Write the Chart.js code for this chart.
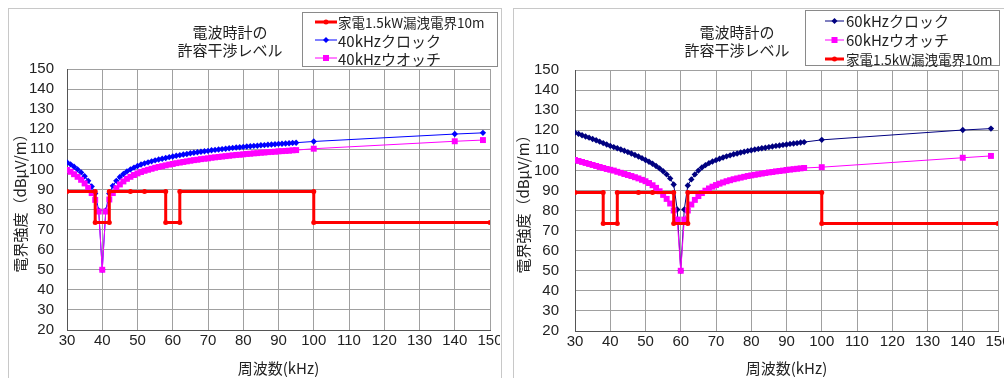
<!DOCTYPE html>
<html lang="ja">
<head>
<meta charset="utf-8">
<script src="https://cdn.jsdelivr.net/npm/chart.js@4.4.1/dist/chart.umd.min.js"></script>
<style>
    body { margin: 0; width: 1004px; height: 378px; overflow: hidden; background: #fff; position: relative;
           font-family: "Noto Sans CJK JP", sans-serif; color: #222; }
    .frame { position: absolute; top: 8px; height: 400px; border: 1px solid #c8c8c8; }
    canvas { position: absolute; }
    .title { position: absolute; font-size: 15px; line-height: 18px; text-align: center; white-space: nowrap;
             transform: translateX(-50%); }
    .legend { position: absolute; background: #fff; border: 1px solid #8a8a8a; font-size: 15px; }
    .legend div { white-space: nowrap; display: flex; align-items: center; }
    .legend .small { font-size: 13.5px; }
</style>
</head>
<body>

<div class="frame" style="left:8px; width:492px;"></div>
<div class="frame" style="left:513px; width:500px;"></div>

<canvas id="chart40" width="491" height="369" style="left:9px; top:9px;"></canvas>
<canvas id="chart60" width="490" height="369" style="left:514px; top:9px;"></canvas>

<div class="title" style="left:230px; top:23px;">電波時計の<br>許容干渉レベル</div>
<div class="title" style="left:737px; top:23px;">電波時計の<br>許容干渉レベル</div>

<div class="legend" style="left:302px; top:12px; width:196px; height:55px; padding-left:12px; box-sizing:border-box;">
    <div style="height:18px;"><svg width="23" height="10"><line x1="0" y1="5" x2="22" y2="5" stroke="#ff0000" stroke-width="3"/><circle cx="11" cy="5" r="2.5" fill="#ff0000"/></svg><span class="small">家電1.5kW漏洩電界10m</span></div>
    <div style="height:18px;"><svg width="23" height="10"><line x1="0" y1="5" x2="22" y2="5" stroke="#0000ff" stroke-width="1"/><path d="M11 2 L14 5 L11 8 L8 5 Z" fill="#0000ff"/></svg><span>40kHzクロック</span></div>
    <div style="height:18px;"><svg width="23" height="10"><line x1="0" y1="5" x2="22" y2="5" stroke="#ff00ff" stroke-width="1"/><rect x="8" y="2" width="6" height="6" fill="#ff00ff"/></svg><span>40kHzウオッチ</span></div>
</div>

<div class="legend" style="left:805px; top:10px; width:195px; height:56px; padding-left:19px; box-sizing:border-box;">
    <div style="height:19px;"><svg width="21" height="10"><line x1="0" y1="5" x2="19" y2="5" stroke="#000080" stroke-width="1"/><path d="M9.5 2 L12.5 5 L9.5 8 L6.5 5 Z" fill="#000080"/></svg><span>60kHzクロック</span></div>
    <div style="height:19px;"><svg width="21" height="10"><line x1="0" y1="5" x2="19" y2="5" stroke="#ff00ff" stroke-width="1"/><rect x="6.5" y="2" width="6" height="6" fill="#ff00ff"/></svg><span>60kHzウオッチ</span></div>
    <div style="height:19px;"><svg width="21" height="10"><line x1="0" y1="5" x2="19" y2="5" stroke="#ff0000" stroke-width="3"/><circle cx="9.5" cy="5" r="2.5" fill="#ff0000"/></svg><span class="small">家電1.5kW漏洩電界10m</span></div>
</div>

<script>
// frequencies (kHz) where the clock / watch curves were sampled
var freqKHz = [30, 31, 32, 33, 34, 35, 36, 37, 38, 39, 40, 41, 42, 43, 44, 45, 46, 47, 48, 49,
    50, 51, 52, 53, 54, 55, 56, 57, 58, 59, 60, 61, 62, 63, 64, 65, 66, 67, 68, 69,
    70, 71, 72, 73, 74, 75, 76, 77, 78, 79, 80, 81, 82, 83, 84, 85, 86, 87, 88, 89,
    90, 91, 92, 93, 94, 95, 100, 140, 148];

// 40kHz clock / watch (dBuV/m)
var clock40 = [103.5, 102.5, 101.3, 100.0, 98.5, 96.6, 94.3, 91.5, 88.0, 79.5, 50, 79.5, 88.0, 91.8, 94.3, 96.2, 97.7, 99.0, 100.0, 100.9,
    101.7, 102.4, 103.0, 103.5, 104.0, 104.5, 104.9, 105.3, 105.7, 106.1, 106.4, 106.8, 107.1, 107.4, 107.7, 108.0, 108.3, 108.5, 108.8, 109.0,
    109.2, 109.5, 109.7, 109.9, 110.1, 110.3, 110.5, 110.7, 110.9, 111.0, 111.2, 111.4, 111.5, 111.7, 111.8, 112.0, 112.1, 112.3, 112.4, 112.5,
    112.7, 112.8, 112.9, 113.0, 113.2, 113.3, 113.9, 117.6, 118.2];
var watch40 = [99.7, 98.8, 97.6, 96.3, 94.8, 93.0, 90.8, 88.2, 84.8, 79.0, 50, 79.0, 85.0, 88.2, 90.6, 92.5, 94.0, 95.3, 96.3, 97.2,
    98.0, 98.7, 99.3, 99.8, 100.3, 100.8, 101.2, 101.6, 102.0, 102.4, 102.7, 103.1, 103.4, 103.7, 104.0, 104.3, 104.6, 104.8, 105.1, 105.3,
    105.5, 105.8, 106.0, 106.2, 106.4, 106.6, 106.8, 107.0, 107.2, 107.3, 107.5, 107.7, 107.8, 108.0, 108.1, 108.3, 108.4, 108.6, 108.7, 108.8,
    109.0, 109.1, 109.2, 109.3, 109.5, 109.6, 110.3, 114.0, 114.6];

// 60kHz clock / watch (dBuV/m)
var clock60 = [118.8, 118.2, 117.5, 116.9, 116.3, 115.6, 115.0, 114.3, 113.6, 112.9, 112.2, 111.6, 111.0, 110.4, 109.8, 109.1, 108.4, 107.7, 106.9, 106.1,
    105.2, 104.3, 103.3, 102.2, 101.0, 99.6, 98.0, 96.0, 93.0, 80.5, 50, 80.5, 92.5, 95.5, 98.0, 99.9, 101.4, 102.6, 103.6, 104.4,
    105.1, 105.8, 106.4, 107.0, 107.5, 108.0, 108.4, 108.9, 109.3, 109.7, 110.0, 110.4, 110.7, 111.0, 111.3, 111.6, 111.9, 112.2, 112.4, 112.7,
    112.9, 113.2, 113.4, 113.6, 113.9, 114.1, 115.2, 120.1, 120.8];
var watch60 = [105.2, 104.7, 104.2, 103.7, 103.2, 102.7, 102.2, 101.7, 101.2, 100.7, 100.3, 99.9, 99.3, 98.8, 98.2, 97.7, 97.2, 96.6, 96.0, 95.3,
    94.6, 93.7, 92.6, 91.3, 89.6, 87.8, 85.8, 83.5, 80.0, 75.5, 50, 75.5, 80.0, 83.0, 85.3, 87.2, 88.7, 89.9, 91.0, 91.9,
    92.7, 93.4, 94.0, 94.6, 95.1, 95.6, 96.0, 96.4, 96.8, 97.2, 97.5, 97.8, 98.1, 98.4, 98.7, 99.0, 99.2, 99.5, 99.7, 99.9,
    100.2, 100.4, 100.6, 100.8, 101.0, 101.2, 101.6, 106.3, 107.2];

// appliance (1.5kW) leakage field at 10m
var leakFreq = [30, 38, 38, 42, 42, 48, 52, 58, 58, 62, 62, 100, 100, 150];
var leakLevel = [89, 89, 73.5, 73.5, 89, 89, 89, 89, 73.5, 73.5, 89, 89, 73.5, 73.5];

var yMin = 20, yMax = 150;
var xMin = 30, xMax = 150;

function toPoints(xs, ys) {
    return xs.map(function (x, i) {
        return {x: x, y: ys[i]};
    });
}

function lineSet(label, xs, ys, color, width, style, radius, order) {
    return {
        label: label,
        data: toPoints(xs, ys),
        showLine: true,
        borderColor: color,
        backgroundColor: color,
        borderWidth: width,
        pointStyle: style,
        pointRadius: radius,
        pointBorderWidth: 0,
        order: order
    };
}

/**
 * Builds one chart. box holds the pixel geometry of the plot area inside the canvas.
 */
function makeChart(id, datasets, box) {
    var tickFont = {family: 'Liberation Sans', size: 15};
    var titleFont = {family: '"Noto Sans CJK JP"', size: 15};
    return new Chart(document.getElementById(id), {
        type: 'scatter',
        data: {datasets: datasets},
        options: {
            responsive: false,
            animation: false,
            layout: {padding: {top: box.top, right: box.right, left: 0, bottom: 0}},
            plugins: {legend: {display: false}, tooltip: {enabled: false}},
            scales: {
                x: {
                    type: 'linear', min: xMin, max: xMax,
                    ticks: {stepSize: 10, autoSkip: false, maxRotation: 0, padding: 2, color: '#222', font: tickFont},
                    grid: {color: '#a0a0a0', drawTicks: false},
                    border: {color: '#555'},
                    title: {display: true, text: '周波数(kHz)', color: '#222', font: titleFont, padding: {top: 0, bottom: 1}},
                    afterFit: function (s) {
                        s.height = box.xh;
                        s.paddingLeft = 0;
                        s.paddingRight = 0;
                    }
                },
                y: {
                    min: yMin, max: yMax,
                    ticks: {stepSize: 10, autoSkip: false, padding: box.yPad, color: '#222', font: tickFont},
                    grid: {color: '#a0a0a0', drawTicks: false},
                    border: {color: '#555'},
                    title: {display: true, text: '電界強度（dBμV/m）', color: '#222', font: titleFont, padding: {top: box.yTitle, bottom: 0}},
                    afterFit: function (s) {
                        s.width = box.yw;
                        s.paddingTop = 0;
                        s.paddingBottom = 0;
                    }
                }
            }
        }
    });
}

makeChart('chart40', [
    lineSet('家電1.5kW漏洩電界10m', leakFreq, leakLevel, '#ff0000', 3, 'circle', 2.5, 0),
    lineSet('40kHzウオッチ', freqKHz, watch40, '#ff00ff', 1, 'rect', 4.2, 1),
    lineSet('40kHzクロック', freqKHz, clock40, '#0000ff', 1, 'rectRot', 3.2, 2)
], {top: 60, right: 10, xh: 48, yw: 58, yPad: 13, yTitle: 2});

makeChart('chart60', [
    lineSet('家電1.5kW漏洩電界10m', leakFreq, leakLevel, '#ff0000', 3, 'circle', 2.5, 0),
    lineSet('60kHzウオッチ', freqKHz, watch60, '#ff00ff', 1, 'rect', 4.2, 1),
    lineSet('60kHzクロック', freqKHz, clock60, '#000080', 1, 'rectRot', 3.2, 2)
], {top: 61, right: 6, xh: 47, yw: 61, yPad: 16, yTitle: 0});
</script>
</body>
</html>
